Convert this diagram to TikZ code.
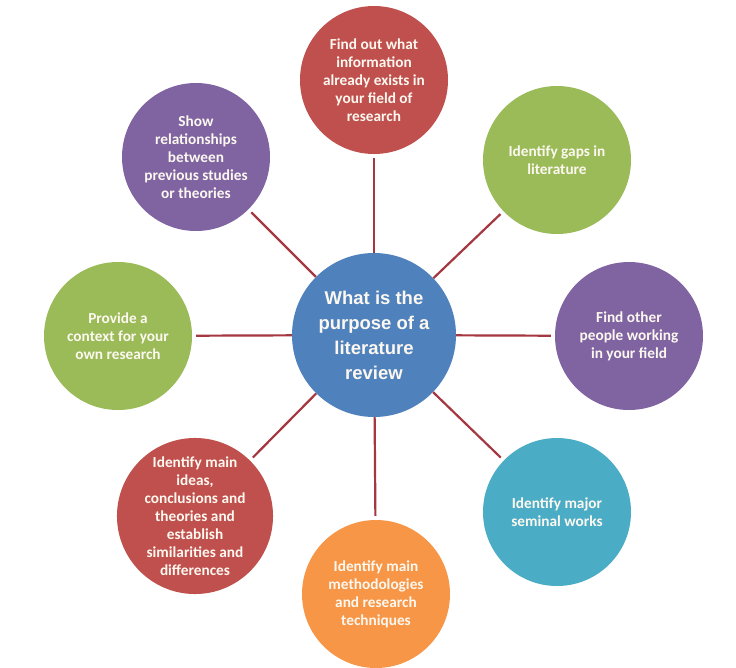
\documentclass[tikz,border=0pt]{standalone}
\usepackage{fontspec}
\setmainfont{Carlito}
\newfontfamily\ctrfont{Liberation Sans}
\definecolor{cred}{HTML}{C0504D}
\definecolor{cgreen}{HTML}{9BBB59}
\definecolor{cpurple}{HTML}{8064A2}
\definecolor{ccyan}{HTML}{4BACC6}
\definecolor{corange}{HTML}{F79646}
\definecolor{cblue}{HTML}{4F81BD}
\definecolor{linec}{RGB}{165,55,65}
\definecolor{txt}{RGB}{252,248,240}
\begin{document}
\begin{tikzpicture}[x=1pt,y=-1pt,
  bubble/.style={circle,inner sep=0pt,minimum size=148pt,text=txt,align=center,
    font=\bfseries\fontsize{15.3}{18}\selectfont},
  hub/.style={circle,inner sep=0pt,minimum size=164pt,fill=cblue,text=txt,align=center,
    font=\ctrfont\bfseries\fontsize{18.5}{25}\selectfont},
  conn/.style={draw=linec,line width=2.2pt,shorten >=4pt}]
\fill[white] (0,0) rectangle (736,667);
\useasboundingbox (0,0) rectangle (736,667);
\node[hub] (c) at (374,335) {What is the\\purpose of a\\literature\\review};
\node[bubble,fill=cred] (n1) at (374,80) {Find out what\\information\\already exists in\\your field of\\research};
\node[bubble,fill=cgreen] (n2) at (557,160) {Identify gaps in\\literature};
\node[bubble,fill=cpurple] (n3) at (629,336) {Find other\\people working\\in your field};
\node[bubble,fill=ccyan] (n4) at (557,512) {Identify major\\seminal works};
\node[bubble,fill=corange] (n5) at (376,594) {Identify main\\methodologies\\and research\\techniques};
\node[bubble,fill=cred] (n6) at (195,516) {Identify main\\ideas,\\conclusions and\\theories and\\establish\\similarities and\\differences};
\node[bubble,fill=cgreen] (n7) at (118,336) {Provide a\\context for your\\own research};
\node[bubble,fill=cpurple] (n8) at (196,157) {Show\\relationships\\between\\previous studies\\or theories};
\foreach \n in {n1,n2,n3,n4,n5,n6,n7,n8} \draw[conn] (c) -- (\n);
\end{tikzpicture}
\end{document}
